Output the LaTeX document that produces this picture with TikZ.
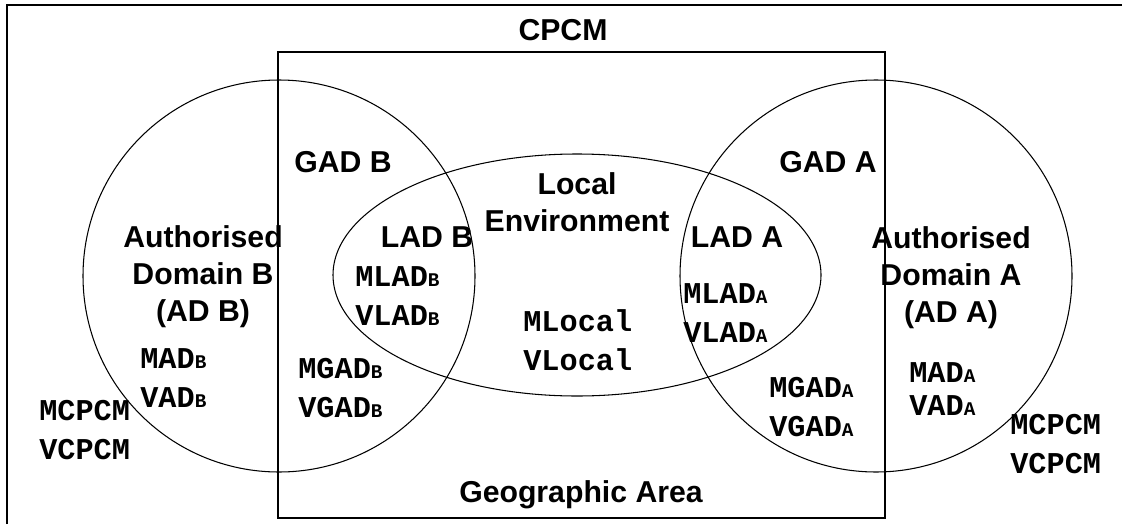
\documentclass[tikz,border=0pt]{standalone}
\usepackage{fontspec}
\setmainfont{Liberation Sans}
\setmonofont{Liberation Mono}

% small letter after a variable name
\newcommand{\dm}[1]{{\fontsize{11}{11}\selectfont #1}}

\tikzset{
  area/.style={font=\bfseries\fontsize{17.2}{21}\selectfont, align=center, inner sep=0pt},
  var/.style={font=\ttfamily\bfseries\fontsize{17.2}{22}\selectfont, align=left, inner sep=0pt, anchor=west},
  thin line/.style={line width=0.6pt},
  frame line/.style={line width=1.1pt}
}

\begin{document}
\begin{tikzpicture}[x=0.02cm, y=-0.02cm]
  \useasboundingbox (0,0) rectangle (1122,524);

  % outer frame (top and left only)
  \draw[frame line] (7,524) -- (7,5) -- (1122,5);

  % geographic area and domains
  \draw[thin line] (278,52) rectangle (885,518);
  \draw[thin line] (279,276) circle (196);
  \draw[thin line] (876,276) circle (196);
  \draw[thin line] (577,275) ellipse (244 and 121);

  % area labels
  \node[area] (cpcm)   at (563,30)  {CPCM};
  \node[area] (gadB)   at (343,162) {GAD B};
  \node[area] (gadA)   at (828,162) {GAD A};
  \node[area] (adB)    at (203,277) {Authorised\\Domain B\\(AD B)};
  \node[area] (adA)    at (951,278) {Authorised\\Domain A\\(AD A)};
  \node[area] (ladB)   at (427,237) {LAD B};
  \node[area] (ladA)   at (737,237) {LAD A};
  \node[area] (local)  at (577,202) {Local\\Environment};
  \node[area] (geo)    at (581,495) {Geographic Area};

  % variables
  \node[var] (vcpcmB) at (39,430)  {MCPCM\\VCPCM};
  \node[var] (vadB)   at (140,378) {MAD\dm{B}\\VAD\dm{B}};
  \node[var] (vgadB)  at (298,388) {MGAD\dm{B}\\VGAD\dm{B}};
  \node[var] (vladB)  at (355,296) {MLAD\dm{B}\\VLAD\dm{B}};
  \node[var] (vlocal) at (523,340) {MLocal\\VLocal};
  \node[var] (vladA)  at (683,313) {MLAD\dm{A}\\VLAD\dm{A}};
  \node[var] (vgadA)  at (769,407) {MGAD\dm{A}\\VGAD\dm{A}};
  \node[var] (vadA)   at (909,389) {MAD\dm{A}\\[-3pt]VAD\dm{A}};
  \node[var] (vcpcmA) at (1010,444) {MCPCM\\VCPCM};
\end{tikzpicture}
\end{document}
